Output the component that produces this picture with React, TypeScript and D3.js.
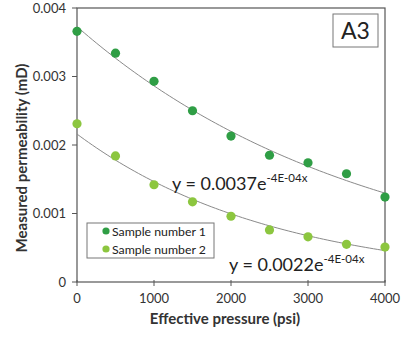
import React from "react";
import * as d3 from "d3";

const pressure = [0, 500, 1000, 1500, 2000, 2500, 3000, 3500, 4000];
const sample1 = [0.00366, 0.00334, 0.00293, 0.0025, 0.00213, 0.00185, 0.00174, 0.00158, 0.00124];
const sample2 = [0.00231, 0.00184, 0.00142, 0.00117, 0.00096, 0.00076, 0.00066, 0.00055, 0.00051];
const xTicks = [0, 1000, 2000, 3000, 4000];
const yTicks = [0, 0.001, 0.002, 0.003, 0.004];
const seriesNames = ["Sample number 1", "Sample number 2"];
const seriesColors = ["#2f9e45", "#8cc63f"];
const equations = [
  { base: "y = 0.0037e", sup: "-4E-04x" },
  { base: "y = 0.0022e", sup: "-4E-04x" }
];

const W = 409,
  H = 337;
const left = 77,
  right = 385,
  top = 8,
  bottom = 282;
const font = "Lato, 'Open Sans', sans-serif";

// exponential least squares on ln(y), like a spreadsheet trendline
function expFit(xs: number[], ys: number[]) {
  const ly = ys.map(v => Math.log(v));
  const mx = d3.mean(xs) as number;
  const my = d3.mean(ly) as number;
  let num = 0,
    den = 0;
  xs.forEach((x, i) => {
    num += (x - mx) * (ly[i] - my);
    den += (x - mx) * (x - mx);
  });
  const k = num / den;
  const a = Math.exp(my - k * mx);
  return (x: number) => a * Math.exp(k * x);
}

export default function App() {
  const x = d3.scaleLinear().domain([0, 4000]).range([left, right]);
  const y = d3.scaleLinear().domain([0, 0.004]).range([bottom, top]);
  const series = [sample1, sample2];
  const samples = d3.range(0, 4001, 50);

  return (
    <svg width={W} height={H} style={{ position: "absolute", left: 0, top: 0, background: "#fff" }}>
      {/* frame */}
      <rect x={left} y={top} width={right - left} height={bottom - top} fill="none" stroke="#555" strokeWidth={1.2} />
      {/* y ticks */}
      {yTicks.map(t => (
        <g key={"y" + t}>
          <line x1={left - 5} x2={left} y1={y(t)} y2={y(t)} stroke="#555" />
          <text x={left - 11} y={y(t) + 4.5} textAnchor="end" fontSize={13} fill="#333" fontFamily={font}>
            {t === 0 ? "0" : t.toFixed(3)}
          </text>
        </g>
      ))}
      {/* x ticks */}
      {xTicks.map(t => (
        <g key={"x" + t}>
          <line x1={x(t)} x2={x(t)} y1={bottom - 2} y2={bottom + 4} stroke="#555" />
          <text x={x(t)} y={bottom + 21} textAnchor="middle" fontSize={13} fill="#333" fontFamily={font}>
            {t}
          </text>
        </g>
      ))}
      <text x={225} y={324} textAnchor="middle" fontSize={15} fontWeight="bold" fill="#333" fontFamily={font}>
        Effective pressure (psi)
      </text>
      <text
        transform={`translate(27,158) rotate(-90)`}
        textAnchor="middle"
        fontSize={15}
        fontWeight="bold"
        fill="#333"
        fontFamily={font}
      >
        Measured permeability (mD)
      </text>
      {/* trendlines */}
      {series.map((s, i) => {
        const f = expFit(pressure, s);
        return (
          <path
            key={"t" + i}
            d={d3.line<number>().x(d => x(d)).y(d => y(f(d)))(samples) || ""}
            fill="none"
            stroke="#8a8a8a"
            strokeWidth={1}
          />
        );
      })}
      {/* points */}
      {series.map((s, i) =>
        s.map((v, j) => (
          <circle key={i + "-" + j} cx={x(pressure[j])} cy={y(v)} r={4.6} fill={seriesColors[i]} />
        ))
      )}
      {/* equations */}
      <text x={172} y={190} fontSize={18} fill="#222" fontFamily={font}>
        {equations[0].base}
        <tspan fontSize={11.5} dy={-8}>{equations[0].sup}</tspan>
      </text>
      <text x={229} y={271} fontSize={18} fill="#222" fontFamily={font}>
        {equations[1].base}
        <tspan fontSize={11.5} dy={-8}>{equations[1].sup}</tspan>
      </text>
      {/* legend */}
      <rect x={87} y={223} width={127} height={35} fill="#fff" stroke="#777" />
      {seriesNames.map((n, i) => (
        <g key={n}>
          <circle cx={106} cy={231 + i * 18} r={3.6} fill={seriesColors[i]} />
          <text x={112} y={235.5 + i * 18} fontSize={12.3} fill="#222" fontFamily={font}>
            {n}
          </text>
        </g>
      ))}
      {/* panel label */}
      <rect x={333} y={14} width={45} height={33} fill="#fff" stroke="#777" />
      <text x={355.5} y={39} textAnchor="middle" fontSize={23} fill="#222" fontFamily={font}>
        A3
      </text>
    </svg>
  );
}
